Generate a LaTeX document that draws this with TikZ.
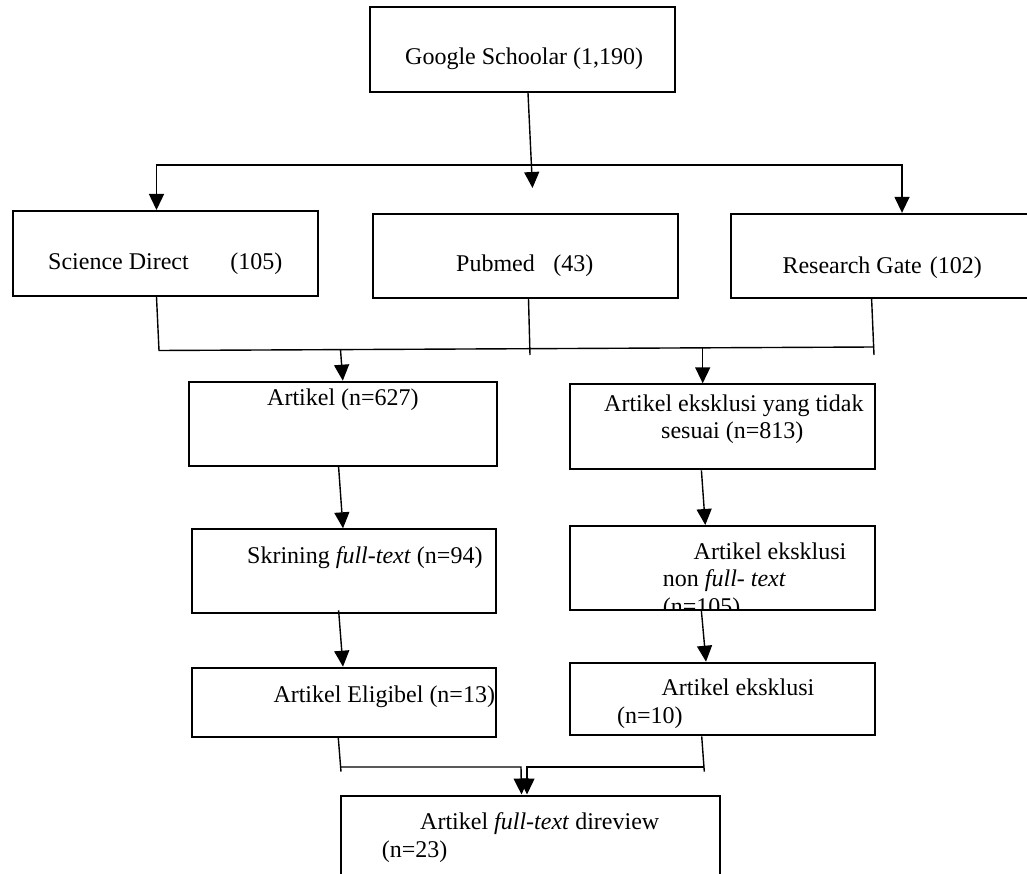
\documentclass[tikz,border=0pt]{standalone}
\usepackage{fontspec}
\setmainfont{Liberation Serif}
\usetikzlibrary{arrows.meta,calc}
\begin{document}
\begin{tikzpicture}[x=1pt,y=-1pt,
  box/.style={draw, line width=2pt, inner sep=0pt},
  txt/.style={inner sep=0pt, anchor=base west, font=\fontsize{24}{27.5}\selectfont},
  conn/.style={line width=1.4pt},
  arr/.style={line width=1.4pt, -{Triangle[length=16pt,width=15pt]}}]
\useasboundingbox (0,0) rectangle (1027,874);
% boxes
\node[box, minimum width=304.5pt, minimum height=85pt] (google) at (522.25,49.5) {};
\node[box, minimum width=305pt, minimum height=85pt] (sd) at (165.5,253.5) {};
\node[box, minimum width=305pt, minimum height=84pt] (pub) at (525.5,255.7) {};
\node[box, minimum width=300pt, minimum height=84pt] (rg) at (881,255.85) {};
\node[box, minimum width=308.4pt, minimum height=84.3pt] (art) at (342.8,423.85) {};
\node[box, minimum width=304.6pt, minimum height=85pt] (exc) at (722.7,426.8) {};
\node[box, minimum width=304.4pt, minimum height=84pt] (skr) at (344.2,571.3) {};
\node[box, minimum width=304.6pt, minimum height=84pt] (nft) at (722.7,568) {};
\node[box, minimum width=304.4pt, minimum height=69.3pt] (eli) at (344.2,702.35) {};
\node[box, minimum width=304.6pt, minimum height=72.6pt] (exc2) at (722.7,699) {};
\node[box, minimum width=378.5pt, minimum height=110pt] (fin) at (530.25,850.5) {};
% texts
\node[txt] (tgoogle) at (405,64.5) {Google Schoolar (1,190)};
\node[txt] (tsd) at (48,269.5) {Science Direct\hspace{41.5pt}(105)};
\node[txt] (tpub) at (456,272) {Pubmed\hspace{18.5pt}(43)};
\node[txt] (trg) at (782.3,273.5) {Research Gate\hspace{8pt}(102)};
\node[txt] (tart) at (267,405.5) {Artikel (n=627)};
\node[txt] (texc1) at (604,411.5) {Artikel eksklusi yang tidak};
\node[txt] (texc2) at (661,438.5) {sesuai (n=813)};
\node[txt] (tskr) at (247,563.5) {Skrining \textit{full-text} (n=94)};
\node[txt] (tnft1) at (693.5,559) {Artikel eksklusi};
\node[txt] (tnft2) at (662.7,586.8) {non \textit{full- text}};
\begin{scope}
\clip (nft.north west) rectangle ([yshift=1pt]nft.south east);
\node[txt] (tnft3) at (662.7,614.3) {(n=105)};
\end{scope}
\node[txt] (teli) at (273.3,702.5) {Artikel Eligibel (n=13)};
\node[txt] (tex21) at (661.4,695.8) {Artikel eksklusi};
\node[txt] (tex22) at (617,723.5) {(n=10)};
\node[txt] (tfin1) at (420,829.2) {Artikel \textit{full-text} direview};
\node[txt] (tfin2) at (381.7,857.5) {(n=23)};
% connectors top
\coordinate (tipG) at (532.5,188);
\draw[arr] ([xshift=5.75pt]google.south) -- (tipG);
\coordinate (barL) at (156.5,165);
\coordinate (barR) at (902,165);
\coordinate (barM) at (530,165);
\draw[arr] (barM) -- (barL) -- ([xshift=-9pt]sd.north);
\draw[arr] (barM) -- (barR) -- ([xshift=21pt]rg.north);
% second junction
\coordinate (hL) at (159,350.5);
\coordinate (hR) at (874,347);
\coordinate (pubE) at (530,355);
\coordinate (rgE) at (874,355);
\draw[conn] ([xshift=-9pt]sd.south) -- (hL) -- (hR);
\draw[conn] ([xshift=3pt]pub.south) -- (pubE);
\draw[conn] ([xshift=-9.4pt]rg.south) -- (rgE);
\coordinate (a1) at (340.5,349.6);
\coordinate (a2) at (702.7,347.8);
\draw[arr] (a1) -- (art.north);
\draw[arr] (a2) -- ([xshift=-20pt]exc.north);
% middle arrows
\draw[arr] ([xshift=-4.2pt]art.south) -- ([xshift=-1.2pt]skr.north);
\draw[arr] ([xshift=-21.3pt]exc.south) -- ([xshift=-17.4pt]nft.north);
\draw[arr] ([xshift=-5.6pt,yshift=4pt]skr.south) -- ([xshift=-1.2pt]eli.north);
\draw[arr] ([xshift=-21.3pt]nft.south) -- ([xshift=-16.7pt]exc2.north);
% bottom junction
\coordinate (eliE) at (341,771.7);
\coordinate (exE) at (704.3,771.7);
\coordinate (bL) at (341,767);
\coordinate (bR) at (704.3,767);
\coordinate (bM1) at (521,767);
\coordinate (bM2) at (527,767);
\draw[conn] ([xshift=-5.9pt]eli.south) -- (eliE);
\draw[conn] ([xshift=-21pt]exc2.south) -- (exE);
\draw[arr] (bL) -- (bM1) -- ([xshift=-8.75pt]fin.north);
\draw[arr] (bR) -- (bM2) -- ([xshift=-3.25pt]fin.north);
\end{tikzpicture}
\end{document}
